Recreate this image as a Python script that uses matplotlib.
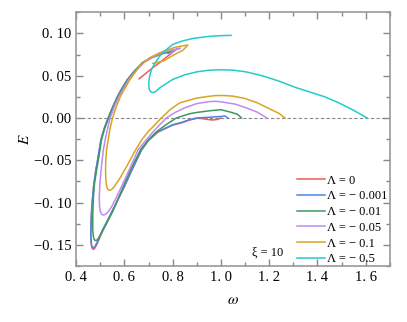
import matplotlib
matplotlib.use("Agg")
import matplotlib.pyplot as plt
from matplotlib.ticker import MultipleLocator, FixedLocator

plt.rcParams['font.family'] = ['Liberation Serif', 'DejaVu Serif']
plt.rcParams['mathtext.fontset'] = 'stix'

# --- data (omega, E) ---
w_0 = [1.0, 0.987, 0.966, 0.945, 0.92, 0.90, 0.87, 0.84, 0.80, 0.77, 0.739, 0.70, 0.671, 0.633, 0.601,
       0.567, 0.532, 0.51, 0.495, 0.485, 0.478, 0.472, 0.467, 0.464, 0.462, 0.461, 0.462, 0.464, 0.468,
       0.473, 0.482, 0.492, 0.503, 0.517, 0.533, 0.55, 0.572, 0.59, 0.613, 0.64, 0.675, 0.71, 0.75,
       0.78, 0.80, 0.81, 0.795, 0.77, 0.746, 0.72, 0.69, 0.661]
E_0 = [0.0, -0.0017, -0.0024, -0.0018, -0.0006, -0.0004, -0.0025, -0.0055, -0.0085, -0.0125, -0.0168,
       -0.0265, -0.038, -0.0605, -0.0805, -0.1005, -0.1205, -0.1335, -0.1435, -0.150, -0.1537, -0.1555,
       -0.1545, -0.1515, -0.1465, -0.138, -0.124, -0.111, -0.096, -0.080, -0.0614, -0.045, -0.0258,
       -0.012, 0.0, 0.012, 0.0257, 0.035, 0.0455, 0.055, 0.0653, 0.071, 0.0755, 0.078, 0.0795, 0.080,
       0.0764, 0.071, 0.0653, 0.060, 0.053, 0.0463]

w_001 = [1.028, 1.017, 1.001, 0.966, 0.93, 0.90, 0.87, 0.84, 0.80, 0.77, 0.739, 0.70, 0.671, 0.633,
         0.601, 0.567, 0.532, 0.51, 0.495, 0.485, 0.478, 0.472, 0.467, 0.464, 0.462, 0.461, 0.462, 0.464,
         0.468, 0.473, 0.482, 0.492, 0.503, 0.517, 0.533, 0.55, 0.572, 0.59, 0.613, 0.64, 0.675, 0.71,
         0.75, 0.78, 0.80, 0.81, 0.80, 0.785]
E_001 = [0.0, 0.0024, 0.0018, 0.0011, 0.0005, 0.0, -0.002, -0.005, -0.008, -0.012, -0.0163, -0.026,
         -0.0376, -0.060, -0.080, -0.100, -0.120, -0.132, -0.142, -0.148, -0.152, -0.1535, -0.1528,
         -0.150, -0.1455, -0.137, -0.123, -0.110, -0.095, -0.079, -0.0614, -0.045, -0.0258, -0.012, 0.0,
         0.012, 0.0257, 0.035, 0.0455, 0.055, 0.0653, 0.071, 0.0755, 0.078, 0.0795, 0.080, 0.0785, 0.0775]

w_01 = [1.085, 1.069, 1.042, 1.0, 0.953, 0.90, 0.87, 0.815, 0.77, 0.733, 0.70, 0.667, 0.628, 0.597,
        0.575, 0.551, 0.52, 0.505, 0.494, 0.486, 0.479, 0.474, 0.471, 0.469, 0.469, 0.471, 0.476, 0.485,
        0.495, 0.505, 0.519, 0.535, 0.553, 0.574, 0.614, 0.642, 0.676, 0.71, 0.75, 0.78, 0.80, 0.807,
        0.795, 0.78]
E_01 = [0.0, 0.0043, 0.0067, 0.0098, 0.0085, 0.0065, 0.005, 0.0, -0.0085, -0.0163, -0.0255, -0.0376,
        -0.060, -0.080, -0.095, -0.111, -0.128, -0.136, -0.1415, -0.1445, -0.145, -0.143, -0.139, -0.132,
        -0.115, -0.097, -0.078, -0.0614, -0.045, -0.0258, -0.012, 0.0, 0.012, 0.0257, 0.0455, 0.055,
        0.0653, 0.071, 0.0755, 0.078, 0.0795, 0.0800, 0.0780, 0.0765]

w_05 = [1.19, 1.152, 1.11, 1.06, 1.014, 0.98, 0.953, 0.90, 0.85, 0.81, 0.774, 0.745, 0.719, 0.69,
        0.657, 0.622, 0.59, 0.565, 0.548, 0.533, 0.521, 0.512, 0.505, 0.500, 0.497, 0.496, 0.498, 0.502,
        0.507, 0.513, 0.523, 0.541, 0.558, 0.578, 0.618, 0.646, 0.68, 0.715, 0.75, 0.78, 0.80, 0.82,
        0.832, 0.815, 0.80, 0.785]
E_05 = [0.0, 0.0067, 0.0114, 0.0163, 0.0185, 0.0197, 0.0194, 0.017, 0.012, 0.0065, 0.0, -0.0085,
        -0.0163, -0.026, -0.0376, -0.060, -0.080, -0.095, -0.1045, -0.111, -0.114, -0.1148, -0.1135,
        -0.110, -0.104, -0.094, -0.080, -0.066, -0.052, -0.0376, -0.022, 0.0, 0.013, 0.0257, 0.0455,
        0.055, 0.0653, 0.0715, 0.0765, 0.079, 0.0805, 0.0818, 0.0825, 0.0808, 0.078, 0.0755]

w_1 = [1.265, 1.24, 1.20, 1.15, 1.10, 1.05, 1.014, 0.98, 0.953, 0.90, 0.829, 0.79, 0.753, 0.725, 0.698,
       0.672, 0.647, 0.609, 0.58, 0.562, 0.551, 0.543, 0.537, 0.532, 0.528, 0.525, 0.523, 0.522, 0.523,
       0.526, 0.533, 0.541, 0.551, 0.566, 0.584, 0.623, 0.664, 0.705, 0.746, 0.774, 0.81, 0.84, 0.863,
       0.842, 0.801, 0.767, 0.733, 0.718]
E_1 = [0.0, 0.0055, 0.011, 0.018, 0.023, 0.0258, 0.0265, 0.0265, 0.0257, 0.0235, 0.0178, 0.010, 0.0,
       -0.0085, -0.0163, -0.0258, -0.0376, -0.0575, -0.072, -0.0795, -0.0835, -0.0852, -0.0855, -0.0845,
       -0.082, -0.078, -0.072, -0.062, -0.050, -0.0376, -0.0258, -0.012, 0.0, 0.013, 0.0257, 0.0455,
       0.062, 0.0713, 0.077, 0.080, 0.0835, 0.0852, 0.0862, 0.080, 0.074, 0.068, 0.0653, 0.0645]

w_5 = [1.605, 1.55, 1.489, 1.43, 1.379, 1.31, 1.241, 1.17, 1.104, 1.05, 1.0, 0.95, 0.90, 0.85, 0.80,
       0.77, 0.746, 0.735, 0.726, 0.718, 0.711, 0.705, 0.702, 0.701, 0.703, 0.707, 0.712, 0.725, 0.746,
       0.77, 0.801, 0.84, 0.884, 0.93, 0.966, 1.0, 1.042]
E_5 = [0.0, 0.009, 0.0178, 0.025, 0.0297, 0.036, 0.0435, 0.050, 0.0545, 0.0565, 0.057, 0.0565, 0.0545,
       0.051, 0.0455, 0.040, 0.0355, 0.0325, 0.0305, 0.030, 0.0305, 0.0325, 0.036, 0.0415, 0.047, 0.052,
       0.057, 0.064, 0.073, 0.080, 0.087, 0.091, 0.094, 0.0958, 0.0968, 0.0973, 0.0977]

labels = ['Λ = 0', 'Λ = \u2212 0.001', 'Λ = \u2212 0.01',
          'Λ = \u2212 0.05', 'Λ = \u2212 0.1', 'Λ = \u2212 0.5']
colors = ['#f05a5a', '#4a86e8', '#3a9a62', '#c08af0', '#d9a520', '#22cccc']
curves = [(w_0, E_0), (w_001, E_001), (w_01, E_01), (w_05, E_05), (w_1, E_1), (w_5, E_5)]

xticks = [0.4, 0.6, 0.8, 1.0, 1.2, 1.4, 1.6]
yticks = [-0.15, -0.10, -0.05, 0.00, 0.05, 0.10]

fig = plt.figure(figsize=(4.07, 3.22), dpi=100, facecolor='white')
ax = fig.add_axes([0.187, 0.174, 0.771, 0.788])

ax.axhline(0, color='#888888', ls='--', lw=0.8, dashes=(3, 2), zorder=1)
for (w, E), c, lab in zip(curves, colors, labels):
    ax.plot(w, E, color=c, lw=1.1, label=lab, solid_joinstyle='round')

ax.set_xlim(0.4, 1.7)
ax.set_ylim(-0.175, 0.125)
ax.xaxis.set_major_locator(FixedLocator(xticks))
ax.yaxis.set_major_locator(FixedLocator(yticks))
ax.set_xticklabels([f"{t:.1f}".replace('.', '. ') for t in xticks])
ax.set_yticklabels([f"{t:.2f}".replace('.', '. ').replace('-', '\u2212') for t in yticks])
ax.xaxis.set_minor_locator(MultipleLocator(0.1))
ax.yaxis.set_minor_locator(MultipleLocator(0.025))
ax.tick_params(which='both', direction='in', top=True, right=True, colors='#888888',
               labelcolor='black', labelsize=10.5)
ax.tick_params(which='major', length=5, width=1)
ax.tick_params(which='minor', length=3, width=1)
for s in ax.spines.values():
    s.set_color('#999999')
    s.set_linewidth(1.2)

ax.set_xlabel(r'$\omega$', fontsize=11, labelpad=7)
ax.set_ylabel(r'$E$', fontsize=11, labelpad=1)

ax.text(1.13, -0.159, 'ξ = 10', fontsize=9, va='center')
ax.legend(loc='upper left', bbox_to_anchor=(0.685, 0.385), frameon=False, fontsize=9,
          handlelength=2.2, handletextpad=0.2, labelspacing=0.3, borderpad=0)

fig.savefig('out.png', dpi=100)
